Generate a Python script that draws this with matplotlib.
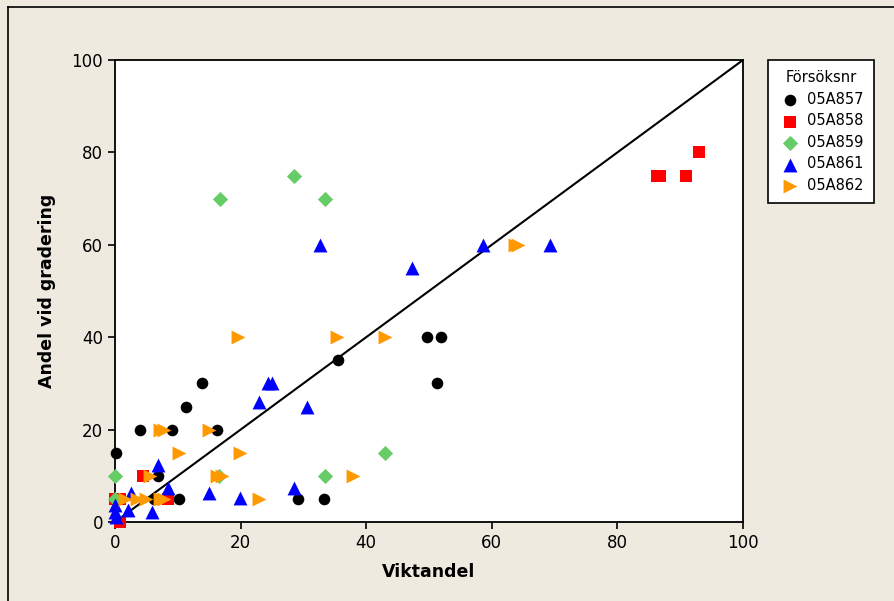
import matplotlib
matplotlib.use("Agg")
import matplotlib.pyplot as plt
from matplotlib.lines import Line2D

# ---- data ----
x_857 = [0.2, 4.0, 9.1, 16.2, 11.3, 13.9, 6.8, 6.2, 10.2, 35.5, 49.7, 51.9, 51.3, 29.1, 33.3]
y_857 = [15, 20, 20, 20, 25, 30, 10, 5, 5, 35, 40, 40, 30, 5, 5]

x_858 = [0.0, 0.8, 0.8, 4.5, 8.5, 86.3, 86.8, 90.9, 93.0]
y_858 = [5, 5, 0, 10, 5, 75, 75, 75, 80]

x_859 = [0.0, 0.0, 16.7, 28.5, 33.4, 33.4, 43.0, 16.5]
y_859 = [10, 5, 70, 75, 70, 10, 15, 10]

x_861 = [32.6, 47.3, 58.6, 69.3, 24.4, 25.0, 22.9, 30.6, 28.5, 14.9, 19.9, 6.8, 8.5, 2.5, 5.9, 2.1, 0.0, 0.0, 0.2]
y_861 = [60, 55, 60, 60, 30, 30, 26, 25, 7.3, 6.3, 5.2, 12.3, 7.3, 6.3, 2.2, 2.6, 3.7, 2.2, 1.0]

x_862 = [19.6, 35.4, 43.0, 63.7, 64.2, 19.9, 10.2, 15.0, 7.2, 7.8, 16.2, 17.0, 37.9, 23.0, 5.6, 1.6, 3.5, 5.0, 7.2, 7.8]
y_862 = [40, 40, 40, 60, 60, 15, 15, 20, 20, 20, 10, 10, 10, 5, 10, 5, 5, 5, 5, 5]

series = [
    ("05A857", x_857, y_857, "o", "#000000", 70),
    ("05A858", x_858, y_858, "s", "#FF0000", 70),
    ("05A859", x_859, y_859, "D", "#66CC66", 60),
    ("05A861", x_861, y_861, "^", "#0000FF", 100),
    ("05A862", x_862, y_862, ">", "#FF9900", 100),
]
ref_line = [0, 100]
ticks = [0, 20, 40, 60, 80, 100]

bg = "#EEEAE0"
fig = plt.figure(figsize=(8.95, 6.01), dpi=100, facecolor=bg)
ax = fig.add_axes([115/895, 1-522/601, (743-115)/895, (522-60)/601])
ax.set_facecolor("white")

ax.plot(ref_line, ref_line, color="black", lw=1.5, zorder=2)
for lab, xs, ys, m, c, s in series:
    ax.scatter(xs, ys, marker=m, color=c, s=s, label=lab, linewidths=0, zorder=3, clip_on=False)

ax.set_xlim(0, 100)
ax.set_ylim(0, 100)
ax.set_xticks(ticks)
ax.set_yticks(ticks)
ax.tick_params(direction="out", length=5, width=1.2, labelsize=12, top=False, right=False)
for sp in ax.spines.values():
    sp.set_linewidth(1.3)
ax.set_xlabel("Viktandel", fontsize=12.5, fontweight="bold", labelpad=8)
ax.set_ylabel("Andel vid gradering", fontsize=12.5, fontweight="bold", labelpad=11)

leg = ax.legend(loc="upper left", bbox_to_anchor=(768/895, 1-60/601), bbox_transform=fig.transFigure,
                title="Försöksnr", fontsize=10.5, title_fontsize=10.5, frameon=True, fancybox=False,
                edgecolor="black", facecolor="white", framealpha=1, borderpad=0.7,
                labelspacing=0.45, handletextpad=0.4, handlelength=1.6,
                borderaxespad=0, scatterpoints=1)
leg.get_frame().set_linewidth(1.2)

# figure frame lines (left and top)
fig.add_artist(Line2D([8/895, 8/895], [0, 1-7/601], transform=fig.transFigure, color="black", lw=1.2))
fig.add_artist(Line2D([8/895, 1], [1-7/601, 1-7/601], transform=fig.transFigure, color="black", lw=1.2))

fig.savefig("out.png", dpi=100, facecolor=bg)
